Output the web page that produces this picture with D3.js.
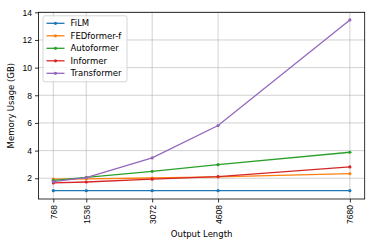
<!DOCTYPE html>
<html>
<head>
<script src="https://d3js.org/d3.v7.min.js"></script>
<style>
  body { margin: 0; background: #fff; }
  svg { font-family: "DejaVu Sans", sans-serif; }
  .grid line { stroke: #b0b0b0; stroke-width: 0.8; opacity: 0.7; }
  .axis path, .axis line { stroke: #000; stroke-width: 0.8; }
  .axis text { font-size: 8.5px; fill: #000; }
</style>
</head>
<body>
<script>
var lengths = [768, 1536, 3072, 4608, 7680];
var film = [1.1, 1.1, 1.1, 1.1, 1.1];
var fedformer = [1.93, 1.96, 2.02, 2.1, 2.33];
var autoformer = [1.85, 2.06, 2.5, 2.98, 3.88];
var informer = [1.66, 1.73, 1.93, 2.12, 2.82];
var transformer = [1.75, 2.05, 3.47, 5.81, 13.45];
var yTicks = [2, 4, 6, 8, 10, 12, 14];

var series = [
  { name: "FiLM", values: film, color: "#1f77b4" },
  { name: "FEDformer-f", values: fedformer, color: "#ff7f0e" },
  { name: "Autoformer", values: autoformer, color: "#2ca02c" },
  { name: "Informer", values: informer, color: "#d62728" },
  { name: "Transformer", values: transformer, color: "#9467bd" }
];

var width = 374, height = 249;
var margin = { top: 12.3, right: 9.3, bottom: 50, left: 38.5 };
var w = width - margin.left - margin.right;
var h = height - margin.top - margin.bottom;

var svg = d3.select("body").append("svg")
  .attr("width", width)
  .attr("height", height);
var g = svg.append("g")
  .attr("transform", "translate(" + margin.left + "," + margin.top + ")");

var span = 7680 - 768;
var x = d3.scaleLinear().domain([768 - 0.05 * span, 7680 + 0.05 * span]).range([0, w]);
var y = d3.scaleLinear().domain([0.5, 14]).range([h, 0]);

// grid
var grid = g.append("g").attr("class", "grid");
grid.selectAll(".gx").data(lengths).enter().append("line")
  .attr("x1", function (d) { return x(d); }).attr("x2", function (d) { return x(d); })
  .attr("y1", 0).attr("y2", h);
grid.selectAll(".gy").data(yTicks).enter().append("line")
  .attr("x1", 0).attr("x2", w)
  .attr("y1", function (d) { return y(d); }).attr("y2", function (d) { return y(d); });

// lines
var line = d3.line()
  .x(function (d, i) { return x(lengths[i]); })
  .y(function (d) { return y(d); });

series.forEach(function (s) {
  g.append("path")
    .datum(s.values)
    .attr("fill", "none")
    .attr("stroke", s.color)
    .attr("stroke-width", 1.3)
    .attr("d", line);
  g.selectAll(null).data(s.values).enter().append("circle")
    .attr("cx", function (d, i) { return x(lengths[i]); })
    .attr("cy", function (d) { return y(d); })
    .attr("r", 1.6)
    .attr("fill", s.color);
});

// frame
g.append("rect").attr("width", w).attr("height", h)
  .attr("fill", "none").attr("stroke", "#000").attr("stroke-width", 0.8);

// axes
var xAxis = g.append("g").attr("class", "axis")
  .attr("transform", "translate(0," + h + ")")
  .call(d3.axisBottom(x).tickValues(lengths).tickFormat(d3.format("d")).tickSize(3.5).tickPadding(3));
xAxis.select(".domain").remove();
xAxis.selectAll("text")
  .attr("transform", "rotate(-90)")
  .attr("dy", "0.35em")
  .attr("x", -6)
  .attr("y", 0)
  .style("text-anchor", "end");

var yAxis = g.append("g").attr("class", "axis")
  .call(d3.axisLeft(y).tickValues(yTicks).tickSize(3.5).tickPadding(3));
yAxis.select(".domain").remove();

// axis titles
svg.append("text")
  .attr("x", margin.left + w / 2).attr("y", 237)
  .attr("text-anchor", "middle").attr("font-size", 8.5)
  .text("Output Length");
svg.append("text")
  .attr("transform", "translate(14," + (margin.top + h / 2) + ") rotate(-90)")
  .attr("text-anchor", "middle").attr("font-size", 8.5)
  .text("Memory Usage (GB)");

// legend
var lg = g.append("g").attr("transform", "translate(4.5,3.5)");
lg.append("rect")
  .attr("width", 84).attr("height", 66).attr("rx", 2)
  .attr("fill", "#fff").attr("fill-opacity", 0.8)
  .attr("stroke", "#ccc").attr("stroke-width", 0.8);
series.forEach(function (s, i) {
  var yy = 7.5 + i * 12.5;
  lg.append("line").attr("x1", 3.5).attr("x2", 21.5).attr("y1", yy).attr("y2", yy)
    .attr("stroke", s.color).attr("stroke-width", 1.3);
  lg.append("circle").attr("cx", 12.5).attr("cy", yy).attr("r", 1.6).attr("fill", s.color);
  lg.append("text").attr("x", 27.5).attr("y", yy).attr("dy", "0.35em")
    .attr("font-size", 8.5).text(s.name);
});
</script>
</body>
</html>
